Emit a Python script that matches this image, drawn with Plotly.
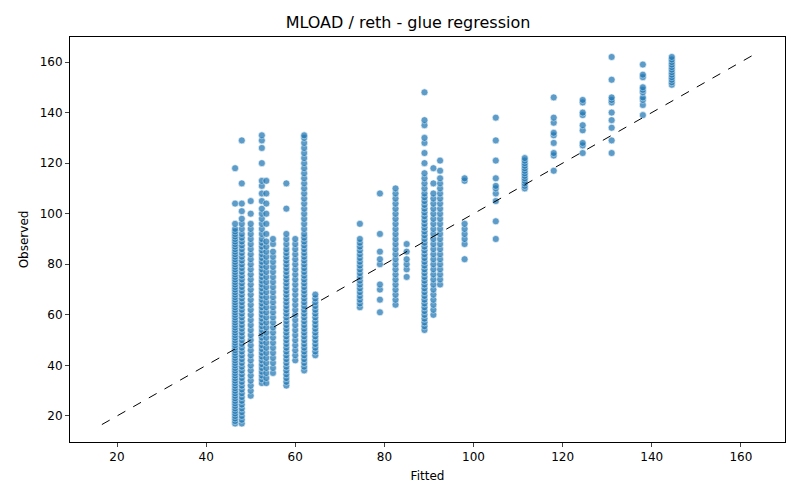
import plotly.graph_objects as go

col_fitted = [46.5, 48, 50, 52.5, 53.5, 55, 58, 60, 62, 64.5,
              74.5, 79, 82.5, 85, 89, 91, 92.5, 98, 105, 111.5,
              118, 124.5, 131, 138, 144.5]
col_observed = [
    [17, 18, 19, 20, 21, 22, 23, 24, 25, 26, 27, 28, 29, 30, 31, 32, 33, 34, 35, 36, 37, 38, 39, 40, 41, 42, 43, 44, 45, 46, 47, 48, 49, 50, 51, 52, 53, 54, 55, 56, 57, 58, 59, 60, 61, 62, 63, 64, 65, 66, 67, 68, 69, 70, 71, 72, 73, 74, 75, 76, 77, 78, 79, 80, 81, 82, 83, 84, 85, 86, 87, 88, 89, 90, 91, 92, 93, 94, 96, 104, 118],
    [17, 18.5, 20, 21.5, 23, 24.5, 26, 27.5, 29, 30.5, 32, 33.5, 35, 36.5, 38, 39.5, 41, 42.5, 44, 45.5, 47, 48.5, 50, 51.5, 53, 54.5, 56, 57.5, 59, 60.5, 62, 63.5, 65, 66.5, 68, 69.5, 71, 72.5, 74, 75.5, 77, 78.5, 80, 81.5, 83, 84.5, 86, 87.5, 89, 90.5, 92, 94, 96, 98, 101, 104, 112, 129],
    [28, 30, 32, 34, 36, 38, 40, 42, 44, 46, 48, 50, 52, 54, 56, 58, 60, 62, 64, 66, 68, 70, 72, 74, 76, 78, 80, 82, 84, 86, 88, 90, 92, 94, 96, 100, 105],
    [33, 34.5, 36, 37.5, 39, 40.5, 42, 43.5, 45, 46.5, 48, 49.5, 51, 52.5, 54, 55.5, 57, 58.5, 60, 61.5, 63, 64.5, 66, 67.5, 69, 70.5, 72, 73.5, 75, 76.5, 78, 79.5, 81, 82.5, 84, 85.5, 87, 88.5, 90, 92, 94, 96, 98, 100, 102, 105, 108, 111, 113, 120, 126, 129, 131],
    [33, 35, 37, 39, 41, 43, 45, 47, 49, 51, 53, 55, 57, 59, 61, 63, 65, 67, 69, 71, 73, 75, 77, 79, 81, 83, 85, 87, 89, 92, 96, 100, 104, 108, 113],
    [37, 39, 41, 43, 45, 47, 49, 51, 53, 55, 57, 59, 61, 63, 65, 67, 69, 71, 73, 75, 77, 79, 81, 83, 85, 88, 90],
    [32, 33.5, 35, 36.5, 38, 39.5, 41, 42.5, 44, 45.5, 47, 48.5, 50, 51.5, 53, 54.5, 56, 57.5, 59, 60.5, 62, 63.5, 65, 66.5, 68, 69.5, 71, 72.5, 74, 75.5, 77, 78.5, 80, 81.5, 83, 84.5, 86, 88, 90, 92, 102, 112],
    [42, 44, 46, 48, 50, 52, 54, 56, 58, 60, 62, 64, 66, 68, 70, 72, 74, 76, 78, 80, 82, 84, 86, 88, 90],
    [38, 39.5, 41, 42.5, 44, 45.5, 47, 48.5, 50, 51.5, 53, 54.5, 56, 57.5, 59, 60.5, 62, 63.5, 65, 66.5, 68, 69.5, 71, 72.5, 74, 75.5, 77, 78.5, 80, 81.5, 83, 84.5, 86, 87.5, 89, 90.5, 92, 94, 96, 98, 100, 102, 104, 106, 108, 110, 112, 114, 116, 118, 120, 122, 124, 126, 128, 130, 131],
    [44, 45.5, 47, 48.5, 50, 51.5, 53, 54.5, 56, 57.5, 59, 60.5, 62, 63.5, 65, 66.5, 68],
    [63, 64.5, 66, 67.5, 69, 70.5, 72, 73.5, 75, 76.5, 78, 79.5, 81, 82.5, 84, 85.5, 87, 88.5, 90, 96],
    [61, 66, 70, 72, 80, 82, 85, 92, 108],
    [64, 66, 68, 70, 72, 74, 76, 78, 80, 82, 84, 86, 88, 90, 92, 94, 96, 98, 100, 102, 104, 106, 108, 110],
    [75, 78, 80, 82, 85, 88],
    [54, 55.5, 57, 58.5, 60, 61.5, 63, 64.5, 66, 67.5, 69, 70.5, 72, 73.5, 75, 76.5, 78, 79.5, 81, 82.5, 84, 85.5, 87, 88.5, 90, 91.5, 93, 94.5, 96, 97.5, 99, 100.5, 102, 103.5, 105, 106.5, 108, 110, 112, 114, 116, 120, 124, 128, 130, 135, 137, 148],
    [60, 62, 64, 66, 68, 70, 72, 74, 76, 78, 80, 82, 84, 86, 88, 90, 92, 94, 96, 98, 100, 102, 104, 106, 108, 112, 118],
    [72, 74, 76, 78, 80, 82, 84, 86, 88, 90, 92, 94, 96, 98, 100, 102, 104, 106, 108, 110, 112, 114, 117, 121],
    [82, 88, 90, 92, 94, 96, 113, 114],
    [90, 97, 105, 108, 110, 111, 114, 121, 129, 138],
    [110, 111, 112, 113, 114, 115, 116, 117, 118, 119, 120, 121, 122],
    [117, 123, 124, 128, 131, 132, 136, 138, 146],
    [124, 127, 128, 133, 135, 139, 140, 144, 145],
    [124, 129, 134, 137, 140, 144, 145, 146, 153, 162],
    [139, 143, 145, 146, 148, 149, 150, 154, 155, 159],
    [151, 152, 153, 154, 155, 156, 157, 158, 159, 160, 161, 162],
]
line_range = [16.6, 162.5]

xs, ys = [], []
for fx, obs in zip(col_fitted, col_observed):
    for v in obs:
        xs.append(fx)
        ys.append(v)

fig = go.Figure()
fig.add_trace(go.Scatter(x=xs, y=ys, mode="markers",
                         marker=dict(color="#1f77b4", size=7, opacity=0.72,
                                     line=dict(color="white", width=0.6))))
fig.add_trace(go.Scatter(x=line_range, y=line_range, mode="lines",
                         line=dict(color="black", width=1, dash="dash")))

axis = dict(showgrid=False, zeroline=False, showline=True, mirror=True,
            linecolor="black", linewidth=1, ticks="outside", ticklen=4,
            tickfont=dict(size=12, color="black"))
fig.update_layout(
    width=800, height=500, showlegend=False,
    plot_bgcolor="white", paper_bgcolor="white",
    font=dict(family="DejaVu Sans", color="black"),
    title=dict(text="MLOAD / reth - glue regression", x=0.5, y=0.972,
               xanchor="center", yanchor="middle", font=dict(size=16)),
    margin=dict(l=62, r=23, t=29, b=66),
    xaxis=dict(axis, range=[9.45, 169.9], dtick=20,
               title=dict(text="Fitted", font=dict(size=12), standoff=8)),
    yaxis=dict(axis, range=[9.7, 169.9], dtick=20,
               title=dict(text="Observed", font=dict(size=12), standoff=8)),
)
fig.write_html("out.html")
